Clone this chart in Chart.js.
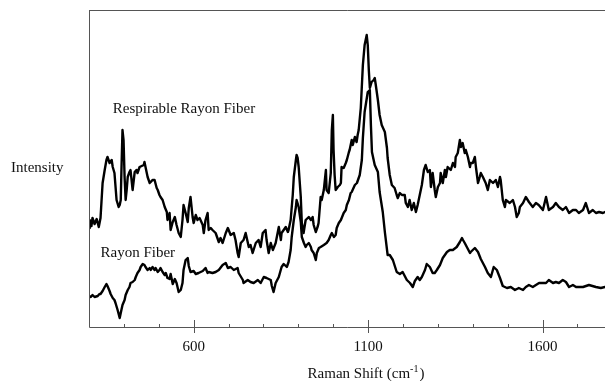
<!DOCTYPE html>
<html>
<head>
<meta charset="utf-8">
<script src="https://cdn.jsdelivr.net/npm/chart.js@4.4.1/dist/chart.umd.min.js"></script>
<style>
    html, body { margin: 0; padding: 0; background: #fff; }
    #wrap { position: relative; width: 605px; height: 381px; }
</style>
</head>
<body>
<div id="wrap"><canvas id="ramanChart"></canvas></div>
<script>
// Raman shift (cm-1) and intensity (arbitrary units)
const respirableShift = [300,302,307,310,316,322,328,333,339,345,350,353,359,365,368,373,379,385,388,391,393,396,399,402,405,408,411,416,419,425,431,436,439,445,451,457,459,465,468,474,477,482,488,494,497,502,505,511,517,523,525,531,534,540,546,551,557,563,568,571,577,583,586,591,597,600,606,611,617,626,629,634,640,643,649,654,663,672,677,683,692,698,706,715,720,726,729,735,743,749,758,763,769,778,786,792,798,806,809,815,821,827,835,844,850,852,858,864,870,872,878,884,887,893,895,898,901,907,910,915,921,927,930,936,941,944,950,956,958,964,967,973,979,981,987,993,996,999,1001,1004,1007,1013,1019,1022,1024,1030,1036,1039,1045,1047,1053,1056,1062,1067,1070,1073,1079,1085,1090,1096,1099,1102,1105,1110,1116,1119,1122,1128,1133,1139,1148,1154,1156,1162,1168,1176,1182,1185,1191,1197,1205,1208,1214,1219,1225,1231,1237,1242,1248,1254,1260,1265,1271,1277,1280,1285,1291,1294,1300,1306,1308,1314,1320,1323,1328,1337,1343,1349,1351,1357,1363,1366,1371,1377,1380,1386,1392,1394,1400,1406,1409,1415,1420,1423,1429,1437,1443,1449,1458,1466,1472,1478,1480,1486,1492,1495,1506,1515,1521,1526,1532,1535,1544,1552,1561,1572,1581,1589,1601,1610,1618,1630,1638,1647,1658,1667,1676,1687,1696,1704,1716,1724,1733,1744,1753,1762,1773,1779];
const respirableIntensity = [99,107,101,109,103,108,100,109,144,157,167,170,164,167,160,154,127,120,122,127,157,197,187,150,127,137,150,155,157,137,155,157,154,160,161,162,165,155,150,144,145,147,147,139,137,132,130,127,120,115,107,114,97,105,110,102,94,90,107,122,114,105,119,130,110,104,112,107,109,102,94,107,114,97,99,97,94,85,89,84,94,99,92,94,87,74,70,84,87,94,80,82,74,84,87,80,94,97,87,74,84,77,84,100,87,94,97,100,95,97,107,132,150,167,172,169,160,130,104,94,107,109,110,107,110,102,95,101,104,130,127,137,157,137,134,154,197,212,177,152,137,140,142,144,160,159,164,167,175,177,187,182,190,185,192,197,219,262,282,292,282,257,239,245,247,249,242,227,212,202,195,179,169,152,142,139,132,129,134,132,132,124,120,127,117,124,115,122,132,142,157,162,155,157,140,154,137,130,140,144,154,144,157,150,160,157,164,160,170,174,187,180,184,174,177,170,160,164,164,170,160,144,150,154,150,144,137,147,144,147,140,150,147,127,120,127,124,127,120,110,114,120,124,130,125,120,124,122,117,130,117,120,124,120,117,120,114,117,117,114,117,124,114,117,114,115,114,115];

const rayonShift = [300,305,310,316,325,330,333,339,345,350,353,359,362,368,373,376,382,388,391,396,402,405,411,416,419,425,431,434,439,445,448,454,459,462,468,474,477,482,488,491,497,502,505,511,517,520,525,531,534,540,546,551,557,563,568,571,577,583,586,591,600,606,614,626,634,640,643,654,663,672,683,692,698,706,715,726,729,741,743,755,763,772,784,792,801,809,821,824,829,835,844,852,858,867,872,878,881,887,893,895,901,907,910,916,921,924,930,936,938,944,950,953,959,964,973,981,987,993,996,1002,1007,1010,1016,1022,1030,1036,1039,1045,1050,1053,1062,1068,1076,1082,1085,1090,1099,1105,1108,1111,1119,1128,1133,1142,1148,1156,1162,1171,1182,1191,1199,1211,1220,1228,1234,1242,1248,1254,1263,1268,1277,1285,1291,1297,1306,1314,1326,1334,1343,1354,1363,1369,1372,1377,1383,1392,1394,1406,1415,1423,1435,1443,1452,1460,1469,1478,1486,1498,1509,1521,1532,1544,1552,1561,1572,1590,1610,1618,1630,1638,1647,1658,1667,1676,1687,1696,1716,1733,1753,1767,1779];
const rayonIntensity = [31,30,32,30,31,33,33,36,40,43,41,36,33,29,27,24,17,9,14,22,27,32,37,40,44,45,47,50,54,57,60,63,62,60,57,59,57,60,57,59,55,57,59,55,52,54,49,48,53,43,48,44,35,37,44,57,67,69,61,55,56,53,54,56,59,54,55,54,55,57,62,64,59,60,57,59,54,47,44,47,45,44,47,44,50,49,47,41,35,44,50,60,63,60,65,77,90,107,120,127,120,105,90,84,80,82,84,80,77,74,67,74,79,80,82,84,87,92,94,90,92,99,104,107,114,117,122,127,134,135,142,144,152,167,189,215,235,237,202,175,162,155,135,115,95,72,72,67,55,53,55,47,44,40,46,50,47,50,57,63,60,54,54,57,62,69,75,77,77,80,85,89,87,84,80,74,75,79,75,68,60,54,50,60,57,49,41,39,40,37,39,37,40,42,40,44,44,47,44,45,44,47,45,40,42,40,40,42,40,39,40];

const majorTicks = [600, 1100, 1600];
const minorTicks = [400, 500, 700, 800, 900, 1000, 1200, 1300, 1400, 1500, 1700];
const xMin = 300, xMax = 1779;
const yMin = 0, yMax = 317;

// curve captions, anchored in data coordinates (left edge, baseline)
const captions = [
    { text: 'Respirable Rayon Fiber', x: 368, y: 214 },
    { text: 'Rayon Fiber', x: 333, y: 70 }
];

const serif = '"Liberation Serif", "Times New Roman", serif';

function toPoints(xs, ys) {
    return xs.map((v, i) => ({ x: v, y: ys[i] }));
}

// frame, ticks and the text around the plot
const framePlugin = {
    id: 'frame',
    afterDraw(chart) {
        const { ctx, chartArea: area, scales: { x, y } } = chart;
        ctx.save();

        // axes box (left, top, bottom)
        ctx.strokeStyle = '#555';
        ctx.lineWidth = 1;
        ctx.beginPath();
        ctx.moveTo(area.left + 0.5, area.top + 0.5);
        ctx.lineTo(area.right, area.top + 0.5);
        ctx.moveTo(area.left + 0.5, area.top);
        ctx.lineTo(area.left + 0.5, area.bottom + 0.5);
        ctx.lineTo(area.right, area.bottom + 0.5);
        ctx.stroke();

        // major ticks cross the axis, minor ticks point inside
        ctx.beginPath();
        majorTicks.forEach(v => {
            const px = Math.round(x.getPixelForValue(v)) + 0.5;
            ctx.moveTo(px, area.bottom - 7);
            ctx.lineTo(px, area.bottom + 6);
        });
        minorTicks.forEach(v => {
            const px = Math.round(x.getPixelForValue(v)) + 0.5;
            ctx.moveTo(px, area.bottom - 3);
            ctx.lineTo(px, area.bottom);
        });
        ctx.stroke();

        ctx.fillStyle = '#111';
        ctx.textBaseline = 'alphabetic';
        ctx.textAlign = 'left';
        ctx.font = '15px ' + serif;

        // curve captions
        captions.forEach(c => {
            ctx.fillText(c.text, x.getPixelForValue(c.x), y.getPixelForValue(c.y));
        });

        // y axis label, horizontal, left of the plot
        ctx.fillText('Intensity', area.left - 78, y.getPixelForValue(155));

        // x axis title with superscript
        const main = 'Raman Shift (cm';
        const sup = '-1';
        const close = ')';
        ctx.font = '15px ' + serif;
        const wMain = ctx.measureText(main).width;
        const wClose = ctx.measureText(close).width;
        ctx.font = '10px ' + serif;
        const wSup = ctx.measureText(sup).width;
        const total = wMain + wSup + wClose + 1;
        const cx = x.getPixelForValue(1094);
        const base = area.bottom + 51;
        let left = cx - total / 2;
        ctx.font = '15px ' + serif;
        ctx.fillText(main, left, base);
        left += wMain;
        ctx.font = '10px ' + serif;
        ctx.fillText(sup, left, base - 6);
        left += wSup + 1;
        ctx.font = '15px ' + serif;
        ctx.fillText(close, left, base);

        ctx.restore();
    }
};

const ctx = document.getElementById('ramanChart').getContext('2d');

const lineStyle = {
    borderColor: '#000',
    borderWidth: 2.4,
    pointRadius: 0,
    tension: 0,
    fill: false,
    borderJoinStyle: 'round',
    borderCapStyle: 'round'
};

new Chart(ctx, {
    type: 'line',
    data: {
        datasets: [
            Object.assign({ label: 'Respirable Rayon Fiber', data: toPoints(respirableShift, respirableIntensity) }, lineStyle),
            Object.assign({ label: 'Rayon Fiber', data: toPoints(rayonShift, rayonIntensity) }, lineStyle)
        ]
    },
    options: {
        responsive: true,
        maintainAspectRatio: false,
        animation: false,
        devicePixelRatio: 1,
        layout: {
            padding: { left: 89, top: 10, right: 0, bottom: 0 }
        },
        plugins: {
            legend: { display: false },
            tooltip: { enabled: false }
        },
        scales: {
            x: {
                type: 'linear',
                min: xMin,
                max: xMax,
                afterBuildTicks: scale => {
                    scale.ticks = majorTicks.map(v => ({ value: v }));
                },
                afterFit: scale => {
                    scale.height = 54;
                },
                grid: { display: false, drawTicks: false },
                border: { display: false },
                ticks: {
                    color: '#111',
                    padding: 11,
                    maxRotation: 0,
                    font: { family: serif, size: 15 },
                    callback: value => String(value)
                }
            },
            y: {
                display: false,
                min: yMin,
                max: yMax
            }
        }
    },
    plugins: [framePlugin]
});
</script>
</body>
</html>
